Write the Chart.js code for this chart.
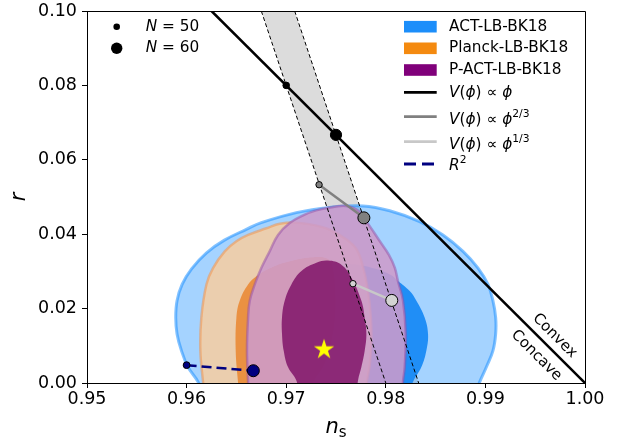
<!DOCTYPE html>
<html><head><meta charset="utf-8">
<script src="https://cdn.jsdelivr.net/npm/chart.js@4.4.1/dist/chart.umd.min.js"></script>
<style>html,body{margin:0;padding:0;background:#fff;}canvas{display:block;}</style>
</head><body>
<canvas id="c" width="629" height="443"></canvas>
<script>
// ---------- data ----------
const xTicks = [0.95, 0.96, 0.97, 0.98, 0.99, 1.00];
const yTicks = [0.00, 0.02, 0.04, 0.06, 0.08, 0.10];

// ACT-LB-BK18 contours (95% outer, 68% inner)
const actOuterNs = [0.9616, 0.96115, 0.96014, 0.95948, 0.95904, 0.95891, 0.95904, 0.95955, 0.9605, 0.9620, 0.9638, 0.9660, 0.9675, 0.97102, 0.97437, 0.97771, 0.98039, 0.9834, 0.98574, 0.98775, 0.98926, 0.99026, 0.99076, 0.99103, 0.99103, 0.99076, 0.9901, 0.98943, 0.9890];
const actOuterR  = [-0.003, 0.0003, 0.0043, 0.0087, 0.0132, 0.0176, 0.0221, 0.0265, 0.0307, 0.0350, 0.0384, 0.0413, 0.0431, 0.0458, 0.0472, 0.0476, 0.0463, 0.0434, 0.0398, 0.0354, 0.0309, 0.0265, 0.0221, 0.0176, 0.0132, 0.0087, 0.0043, 0.0003, -0.003];
const actInnerNs = [0.9670, 0.9664, 0.9661, 0.9662, 0.9668, 0.9682, 0.9705, 0.9735, 0.9765, 0.9790, 0.9805, 0.98122, 0.9824, 0.98307, 0.9839, 0.98424, 0.98407, 0.98357, 0.98273, 0.9824];
const actInnerR  = [-0.003, 0.003, 0.010, 0.017, 0.023, 0.0275, 0.0305, 0.0320, 0.0320, 0.0307, 0.0290, 0.0274, 0.0247, 0.0221, 0.0176, 0.0132, 0.0087, 0.0043, 0.0003, -0.003];

// Planck-LB-BK18 contours
const plOuterNs = [0.9618, 0.96165, 0.96138, 0.96148, 0.96199, 0.96265, 0.96383, 0.9650, 0.96617, 0.96801, 0.96935, 0.97102, 0.9727, 0.97437, 0.9761, 0.9771, 0.9777, 0.9782, 0.9785, 0.97855, 0.9784, 0.9781, 0.9780];
const plOuterR  = [-0.003, 0.0003, 0.0087, 0.0176, 0.0265, 0.0309, 0.0354, 0.0381, 0.0398, 0.0416, 0.0428, 0.0431, 0.0425, 0.0412, 0.0385, 0.0358, 0.0314, 0.0250, 0.0176, 0.0110, 0.0050, 0.0003, -0.003];
const plInnerNs = [0.9653, 0.96516, 0.96493, 0.9650, 0.96533, 0.96617, 0.96701, 0.9685, 0.9705, 0.9728, 0.9742, 0.97465, 0.9749, 0.97487, 0.9745, 0.9738, 0.9727, 0.9723];
const plInnerR  = [-0.003, 0.0003, 0.0087, 0.0176, 0.0221, 0.0265, 0.0287, 0.0310, 0.0328, 0.0338, 0.0333, 0.0310, 0.0250, 0.0176, 0.0110, 0.0050, 0.0003, -0.003];

// P-ACT-LB-BK18 contours
const paOuterNs = [0.9662, 0.96617, 0.96606, 0.96617, 0.96634, 0.96684, 0.9675, 0.96834, 0.96918, 0.97035, 0.97180, 0.97300, 0.97437, 0.97604, 0.97730, 0.97830, 0.97930, 0.98030, 0.98090, 0.98122, 0.98173, 0.9820, 0.9819, 0.98173, 0.9817];
const paOuterR  = [-0.003, 0.0003, 0.0087, 0.0176, 0.0221, 0.0265, 0.0309, 0.0354, 0.0398, 0.0430, 0.0452, 0.0464, 0.0472, 0.0476, 0.0462, 0.0425, 0.0385, 0.0345, 0.0310, 0.0274, 0.0221, 0.0132, 0.0043, 0.0003, -0.003];
const paInnerNs = [0.9712, 0.97102, 0.97018, 0.96975, 0.96958, 0.96958, 0.96985, 0.97052, 0.97153, 0.97303, 0.9742, 0.97554, 0.97655, 0.97755, 0.97788, 0.97805, 0.97788, 0.97755, 0.97721, 0.9771];
const paInnerR  = [-0.003, 0.0007, 0.0043, 0.0087, 0.0132, 0.0176, 0.0221, 0.0265, 0.0301, 0.0323, 0.0329, 0.0318, 0.0283, 0.0221, 0.0176, 0.0132, 0.0087, 0.0043, 0.0007, -0.003];

// N = 50 / N = 60 lines of the phi^p family, and the band between them
const n50Ns = [0.9675, 0.9800];  const n50R = [0.10, 0.00];
const n60Ns = [0.97085, 0.9833]; const n60R = [0.10, 0.00];
const bandNs = [0.9675, 0.97085, 0.9833, 0.9800];
const bandR  = [0.10, 0.10, 0.00, 0.00];

// models (N = 50, N = 60)
const phiLineNs = [0.9625, 1.00]; const phiLineR = [0.10, 0.00];
const phiNs   = [0.9700, 0.9750]; const phiR   = [0.0800, 0.0667];
const phi23Ns = [0.9733, 0.9778]; const phi23R = [0.0533, 0.0444];
const phi13Ns = [0.9767, 0.9806]; const phi13R = [0.0267, 0.0222];
const r2Ns    = [0.9600, 0.9667]; const r2R    = [0.0048, 0.0033];
const starNs  = [0.9738];         const starR  = [0.0090];

// ---------- helpers ----------
const mk = (xs, ys) => xs.map((x, i) => ({x: x, y: ys[i]}));
let ord = 100;
function ds(o) { o.order = ord--; if (o.clip === undefined) o.clip = 0; return o; }
function contour(xs, ys, fill, stroke, bw) {
  return ds({ data: mk(xs, ys), showLine: true, fill: 'shape', backgroundColor: fill,
    borderColor: stroke || 'rgba(0,0,0,0)', borderWidth: bw || 0, pointRadius: 0,
    tension: 0.4, capBezierPoints: false });
}
function makeStar(R, color) {
  const c = document.createElement('canvas');
  const s = Math.ceil(R * 2 + 2);
  c.width = s; c.height = s;
  const g = c.getContext('2d');
  g.beginPath();
  for (let i = 0; i < 10; i++) {
    const rad = i % 2 === 0 ? R : R * 0.382;
    const a = -Math.PI / 2 + i * Math.PI / 5;
    g.lineTo(s / 2 + rad * Math.cos(a), s / 2 + rad * Math.sin(a));
  }
  g.closePath(); g.fillStyle = color; g.fill();
  return c;
}
const starImg = makeStar(10.7, '#ffff00');

const datasets = [
  ds({ data: mk(bandNs, bandR), showLine: true, fill: 'shape', backgroundColor: '#dcdcdc', borderWidth: 0, pointRadius: 0 }),
  contour(actOuterNs, actOuterR, 'rgba(30,144,255,0.40)', 'rgba(30,144,255,0.55)', 3),
  contour(actInnerNs, actInnerR, 'rgba(25,138,245,0.95)'),
  contour(plOuterNs, plOuterR, 'rgba(248,206,160,0.85)', 'rgba(240,150,80,0.55)', 2.5),
  contour(plInnerNs, plInnerR, 'rgba(234,140,58,0.92)'),
  contour(paOuterNs, paOuterR, 'rgba(205,155,203,0.88)', 'rgba(150,80,165,0.5)', 2.5),
  contour(paInnerNs, paInnerR, 'rgba(128,20,105,0.85)'),
  ds({ data: mk(n50Ns, n50R), showLine: true, borderColor: '#000', borderWidth: 1, borderDash: [4, 2.5], pointRadius: 0 }),
  ds({ data: mk(n60Ns, n60R), showLine: true, borderColor: '#000', borderWidth: 1, borderDash: [4, 2.5], pointRadius: 0 }),
  ds({ data: mk(phiLineNs, phiLineR), showLine: true, borderColor: '#000', borderWidth: 2.5, pointRadius: 0 }),
  ds({ data: mk(phi23Ns, phi23R), showLine: true, borderColor: '#808080', borderWidth: 2.5,
       pointRadius: [3.2, 6], pointBackgroundColor: '#808080', pointBorderColor: '#000', pointBorderWidth: 1, clip: false }),
  ds({ data: mk(phi13Ns, phi13R), showLine: true, borderColor: '#c8c8c8', borderWidth: 2.5,
       pointRadius: [3.2, 6], pointBackgroundColor: '#d3d3d3', pointBorderColor: '#000', pointBorderWidth: 1, clip: false }),
  ds({ data: mk(r2Ns, r2R), showLine: true, borderColor: '#000080', borderWidth: 2.5, borderDash: [10, 5],
       pointRadius: [3.4, 6], pointBackgroundColor: '#000080', pointBorderColor: '#000', pointBorderWidth: 1, clip: false }),
  ds({ data: mk(phiNs, phiR), showLine: false, pointRadius: [3.3, 5.6], pointBackgroundColor: '#000', pointBorderColor: '#000', pointBorderWidth: 1, clip: false }),
  ds({ data: mk(starNs, starR), showLine: false, pointStyle: starImg, pointRadius: 10, clip: false })
];

// ---------- overlay: frame, legends, annotations, axis titles ----------
const FONT = "'DejaVu Sans', sans-serif";
function runs(ctx, parts, x, y, size) {
  let cx = x;
  for (const p of parts) {
    const s = p.sup ? size * 0.7 : size;
    ctx.font = (p.it ? 'italic ' : '') + s + 'px ' + FONT;
    const dy = p.sup ? -size * 0.38 : 0;
    ctx.fillText(p.t, cx, y + dy);
    cx += ctx.measureText(p.t).width;
  }
}
const overlay = {
  id: 'overlay',
  afterDraw(chart) {
    const {ctx, chartArea: a, scales: {x, y}} = chart;
    ctx.save();
    ctx.strokeStyle = '#000'; ctx.lineWidth = 1;
    ctx.beginPath();
    ctx.moveTo(a.left, a.top + 0.5); ctx.lineTo(a.right + 0.5, a.top + 0.5); ctx.lineTo(a.right + 0.5, a.bottom);
    ctx.stroke();

    ctx.fillStyle = '#000';
    ctx.textAlign = 'left'; ctx.textBaseline = 'middle';
    // left legend (N)
    const lx = 116.7;
    ctx.beginPath(); ctx.arc(lx, 26.7, 3.3, 0, 2 * Math.PI); ctx.fill();
    ctx.beginPath(); ctx.arc(lx, 48.3, 5.7, 0, 2 * Math.PI); ctx.fill();
    runs(ctx, [{t: 'N', it: true}, {t: ' = 50'}], 145.7, 26.7, 15.3);
    runs(ctx, [{t: 'N', it: true}, {t: ' = 60'}], 145.7, 48.3, 15.3);

    // right legend
    const px = 404, pw = 32.7, tx = 449;
    const patches = [['ACT-LB-BK18', 'rgb(28,142,250)', 26.7], ['Planck-LB-BK18', 'rgb(244,138,16)', 48.3], ['P-ACT-LB-BK18', 'rgb(128,0,122)', 70]];
    for (const [lab, col, yy] of patches) {
      ctx.fillStyle = col; ctx.fillRect(px, yy - 5.8, pw, 11.6);
      ctx.fillStyle = '#000'; ctx.font = '15.3px ' + FONT; ctx.fillText(lab, tx, yy);
    }
    const phiRuns = [{t: 'V', it: true}, {t: '('}, {t: 'ϕ', it: true}, {t: ')'}, {t: ' ∝ '}, {t: 'ϕ', it: true}];
    const lines = [
      [phiRuns, '#000', 92.3, 0.7, null],
      [phiRuns.concat([{t: '2/3', sup: true}]), '#808080', 116.7, 3, null],
      [phiRuns.concat([{t: '1/3', sup: true}]), '#c8c8c8', 141.7, 3, null],
      [[{t: 'R', it: true}, {t: '2', sup: true}], '#000080', 164, 2.5, [12, 6]]
    ];
    for (const [rr, col, yy, dy, dash] of lines) {
      ctx.save();
      ctx.strokeStyle = col; ctx.lineWidth = 2.8;
      if (dash) ctx.setLineDash(dash);
      ctx.beginPath(); ctx.moveTo(px, yy); ctx.lineTo(px + pw, yy); ctx.stroke();
      ctx.restore();
      ctx.fillStyle = '#000';
      runs(ctx, rr, tx, yy + dy, 15.3);
    }

    // Convex / Concave
    ctx.font = '15px ' + FONT; ctx.textAlign = 'center'; ctx.textBaseline = 'middle';
    const ann = [['Convex', 0.99696, 0.0127], ['Concave', 0.99512, 0.0074]];
    for (const [t, vx, vy] of ann) {
      ctx.save();
      ctx.translate(x.getPixelForValue(vx), y.getPixelForValue(vy));
      ctx.rotate(Math.PI / 4);
      ctx.fillText(t, 0, 0);
      ctx.restore();
    }

    // axis titles
    ctx.textAlign = 'left'; ctx.textBaseline = 'alphabetic';
    const cxm = (a.left + a.right) / 2;
    ctx.font = 'italic 21px ' + FONT;
    const wn = ctx.measureText('n').width;
    ctx.font = '15px ' + FONT;
    const ws = ctx.measureText('s').width;
    const sx = cxm - (wn + ws) / 2;
    ctx.font = 'italic 21px ' + FONT; ctx.fillText('n', sx, 433.3);
    ctx.font = '15px ' + FONT; ctx.fillText('s', sx + wn, 437.3);

    ctx.save();
    ctx.translate(25, (a.top + a.bottom) / 2);
    ctx.rotate(-Math.PI / 2);
    ctx.textAlign = 'center';
    ctx.font = 'italic 21px ' + FONT;
    ctx.fillText('r', 0, 0);
    ctx.restore();
    ctx.restore();
  }
};

Chart.defaults.font.family = FONT;
new Chart(document.getElementById('c'), {
  type: 'scatter',
  data: { datasets: datasets },
  options: {
    responsive: false, animation: false, events: [],
    layout: { padding: { top: 7, right: 44, bottom: 0, left: 0 } },
    plugins: { legend: { display: false }, tooltip: { enabled: false } },
    scales: {
      x: {
        type: 'linear', min: 0.95, max: 1.0,
        afterBuildTicks: s => { s.ticks = xTicks.map(v => ({value: v})); },
        ticks: { callback: v => Number(v).toFixed(2), font: { size: 17.5 }, color: '#000', padding: 1, maxRotation: 0, autoSkip: false },
        grid: { drawOnChartArea: false, drawTicks: true, tickLength: 5, tickColor: '#000', tickWidth: 1 },
        border: { display: true, color: '#000', width: 1 },
        afterFit: s => { s.height = 60; s.paddingLeft = 0; s.paddingRight = 0; }
      },
      y: {
        type: 'linear', min: 0, max: 0.10,
        afterBuildTicks: s => { s.ticks = yTicks.map(v => ({value: v})); },
        ticks: { callback: v => Number(v).toFixed(2), font: { size: 17.5 }, color: '#000', padding: 5, autoSkip: false },
        grid: { drawOnChartArea: false, drawTicks: true, tickLength: 5, tickColor: '#000', tickWidth: 1 },
        border: { display: true, color: '#000', width: 1 },
        afterFit: s => { s.width = 87; s.paddingTop = 0; s.paddingBottom = 0; }
      }
    }
  },
  plugins: [overlay]
});
</script>
</body></html>
